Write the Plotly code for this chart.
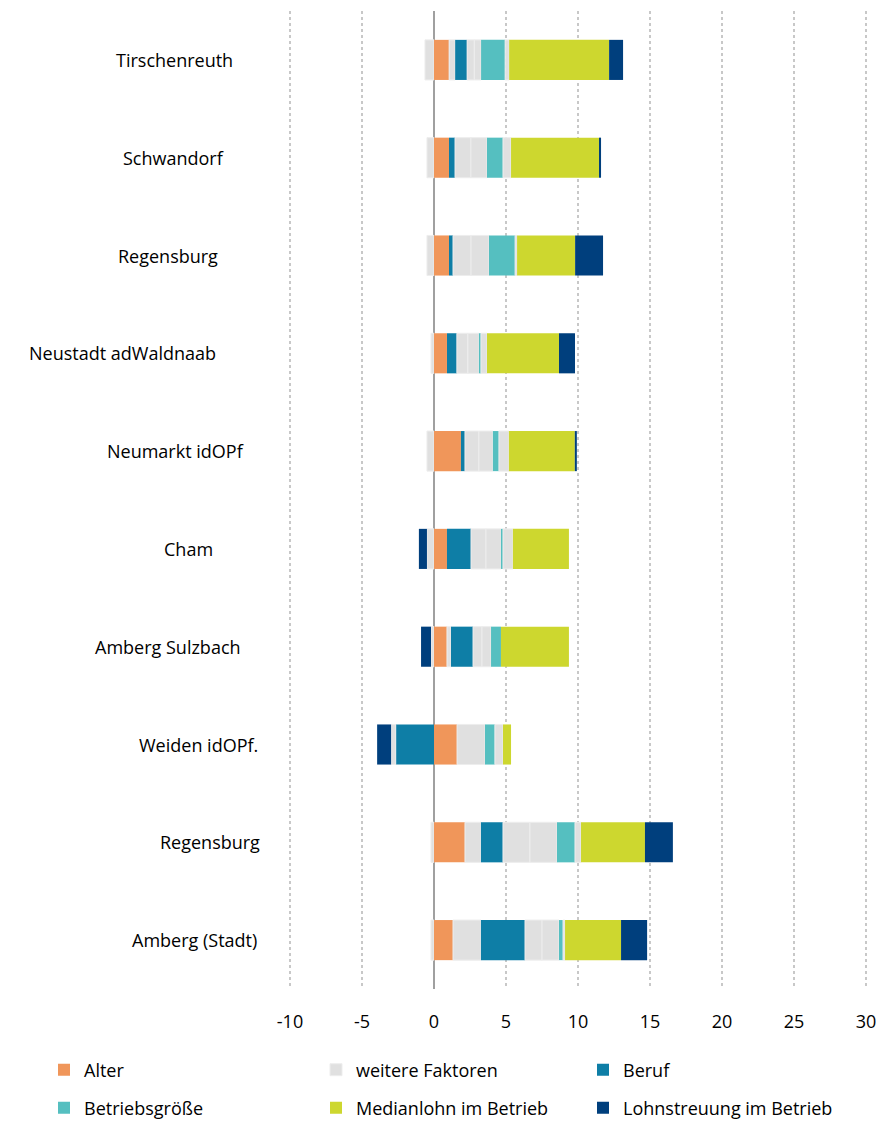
import plotly.graph_objects as go

regions = ["Tirschenreuth", "Schwandorf", "Regensburg", "Neustadt adWaldnaab",
           "Neumarkt idOPf", "Cham", "Amberg Sulzbach", "Weiden idOPf.",
           "Regensburg", "Amberg (Stadt)"]

# stacking order of components (greys = "weitere Faktoren")
grey0 = [-0.63, -0.49, -0.49, -0.21, -0.49, -0.49, -0.21, None, -0.21, -0.21]
alter = [1.05, 1.04, 1.04, 0.90, 1.87, 0.90, 0.90, 1.60, 2.15, 1.32]
grey1 = [0.42, None, None, None, None, None, 0.28, None, 1.11, 1.94]
beruf = [0.83, 0.42, 0.28, 0.69, 0.28, 1.67, 1.53, -2.66, 1.53, 3.06]
grey2 = [0.50, 1.10, 1.25, 0.76, 0.97, 1.04, 0.62, -0.32, 1.87, 1.18]
grey3 = [0.47, 1.12, 1.25, 0.77, 0.97, 1.04, 0.63, 1.94, 1.88, 1.18]
betriebsgroesse = [1.67, 1.11, 1.81, 0.14, 0.42, 0.14, 0.69, 0.69, 1.25, 0.28]
grey4 = [0.28, 0.56, 0.14, 0.42, 0.69, 0.69, None, 0.56, 0.42, 0.14]
medianlohn = [6.94, 6.11, 4.03, 5.00, 4.58, 3.89, 4.72, 0.56, 4.44, 3.89]
lohnstreuung = [0.97, 0.14, 1.94, 1.11, 0.14, -0.56, -0.69, -0.97, 1.94, 1.81]

x_ticks = [-10, -5, 0, 5, 10, 15, 20, 25, 30]

C_ALTER = "#F0965A"
C_GREY = "#E0E0E0"
C_BERUF = "#0E7EA6"
C_BETR = "#55BFC0"
C_MED = "#CDD72F"
C_LOHN = "#003F7D"

ypos = list(range(len(regions)))

series = [
    ("weitere Faktoren", grey0, C_GREY, None),
    ("Alter", alter, C_ALTER, "legend"),
    ("weitere Faktoren", grey1, C_GREY, "legend2"),
    ("Beruf", beruf, C_BERUF, "legend3"),
    ("weitere Faktoren", grey2, C_GREY, None),
    ("weitere Faktoren", grey3, C_GREY, None),
    ("Betriebsgröße", betriebsgroesse, C_BETR, "legend4"),
    ("weitere Faktoren", grey4, C_GREY, None),
    ("Medianlohn im Betrieb", medianlohn, C_MED, "legend5"),
    ("Lohnstreuung im Betrieb", lohnstreuung, C_LOHN, "legend6"),
]

fig = go.Figure()
for name, vals, col, leg in series:
    is_grey = col == C_GREY
    fig.add_trace(go.Bar(
        y=ypos, x=vals, orientation="h", name=name,
        marker=dict(color=col,
                    line=dict(color="#EDEDED" if is_grey else col, width=1 if is_grey else 0)),
        showlegend=leg is not None, legend=leg if leg else "legend",
    ))

FONT = "Open Sans"
OFF = 8                      # page body margin
W, H = 886 - 2 * OFF, 1131 - 2 * OFF
# plot area in page pixels
L, R = 288, 868
T, B = 11, 989

label_center_px = [174, 173, 168, 122, 175, 188, 168, 198, 210, 194]
annotations = []
for i, (lab, cp) in enumerate(zip(regions, label_center_px)):
    annotations.append(dict(
        x=(cp - L) / (R - L), xref="paper", y=i, yref="y",
        text=lab, showarrow=False, xanchor="center", yanchor="middle",
        font=dict(family=FONT, size=18, color="#000000"),
    ))

layout = dict(
    width=W, height=H,
    margin=dict(l=L - OFF, r=(W + OFF) - R, t=T - OFF, b=(H + OFF) - B, pad=0),
    barmode="relative", bargap=0.59,
    plot_bgcolor="white", paper_bgcolor="white",
    font=dict(family=FONT, size=18, color="#000000"),
    xaxis=dict(range=[-10.14, 30.14], tickvals=x_ticks, ticktext=[str(v) for v in x_ticks],
               showgrid=True, gridcolor="#C8C8C8", griddash="dot", gridwidth=2,
               zeroline=True, zerolinecolor="#A0A0A0", zerolinewidth=2,
               ticks="outside", ticklen=16, tickcolor="rgba(0,0,0,0)",
               showline=False, tickfont=dict(family=FONT, size=18)),
    yaxis=dict(range=[9.5, -0.5], showticklabels=False, showgrid=False,
               zeroline=False, showline=False),
    annotations=annotations,
)

# legend entries: square centre positions in page pixels
leg_pos = {"legend": (64, 1070), "legend2": (336, 1070), "legend3": (603, 1070),
           "legend4": (64, 1108), "legend5": (336, 1108), "legend6": (603, 1108)}
for key, (sx, sy) in leg_pos.items():
    layout[key] = dict(orientation="h", xref="container", yref="container",
                       x=(sx - OFF - 20) / W, y=1 - (sy - OFF) / H,
                       xanchor="left", yanchor="middle",
                       font=dict(family=FONT, size=18, color="#000000"),
                       bgcolor="rgba(0,0,0,0)")

fig.update_layout(**layout)
fig.write_html("out.html")
